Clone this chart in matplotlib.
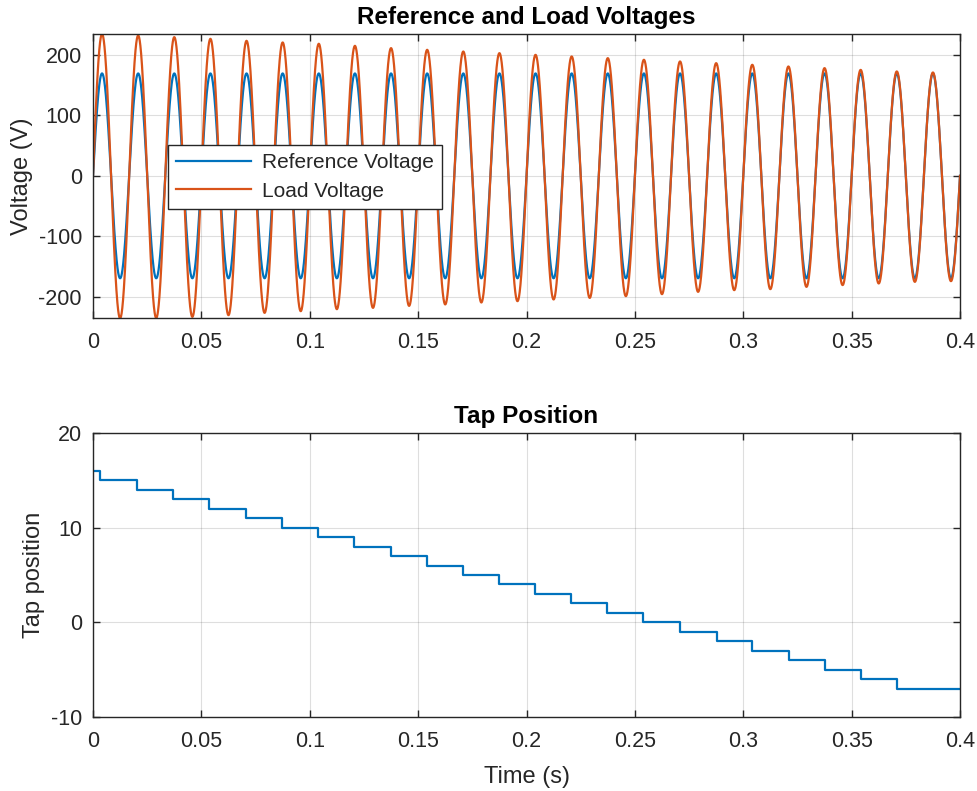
import matplotlib
matplotlib.use("Agg")
import matplotlib.pyplot as plt
import numpy as np

plt.rcParams["font.family"] = ["Liberation Sans", "DejaVu Sans"]
plt.rcParams["axes.unicode_minus"] = False

# ---------------------------------------------------------------------------
# Data
# ---------------------------------------------------------------------------
FREQ_HZ = 60.0
T_END = 0.4
REF_PEAK = 169.7  # reference voltage amplitude (V)

# load voltage peak per cycle (positive half, negative half), read per cycle
load_pos_peaks = [235.0, 232.6, 229.8, 227.0, 223.7, 221.0, 218.8, 215.4,
                  211.6, 208.8, 206.0, 203.3, 200.5, 197.8, 195.0, 192.3,
                  189.5, 186.7, 184.0, 181.2, 178.5, 175.6, 173.0, 171.3]
load_neg_peaks = [236.0, 235.5, 233.6, 230.8, 227.0, 224.2, 220.9, 218.7,
                  215.4, 213.0, 209.8, 207.6, 204.8, 202.2, 199.3, 196.0,
                  192.2, 189.4, 187.7, 183.9, 181.0, 178.3, 175.6, 174.5]

# tap changer: level held from each switch time on
tap_switch_times = [0.0, 0.0032, 0.0201, 0.0370, 0.0537, 0.0704, 0.0873,
                    0.1040, 0.1206, 0.1375, 0.1543, 0.1709, 0.1875, 0.2040,
                    0.2205, 0.2373, 0.2539, 0.2708, 0.2877, 0.3042, 0.3211,
                    0.3377, 0.3543, 0.3708]
tap_levels = [16, 15, 14, 13, 12, 11, 10, 9, 8, 7, 6, 5, 4, 3, 2, 1, 0,
              -1, -2, -3, -4, -5, -6, -7]

x_ticks = [0, 0.05, 0.1, 0.15, 0.2, 0.25, 0.3, 0.35, 0.4]
x_tick_labels = ["0", "0.05", "0.1", "0.15", "0.2", "0.25", "0.3", "0.35", "0.4"]

BLUE = "#0072BD"
ORANGE = "#D95319"
AX_COLOR = "#262626"

TICK_FS = 15.5
LABEL_FS = 17
TITLE_FS = 17.5

# ---------------------------------------------------------------------------
# Build waveforms (sine carrier scaled by the half-cycle peaks read above)
# ---------------------------------------------------------------------------
t = np.linspace(0, T_END, 8001)
carrier = np.sin(2 * np.pi * FREQ_HZ * t)
v_ref = REF_PEAK * carrier

cycle = np.minimum((t * FREQ_HZ).astype(int), len(load_pos_peaks) - 1)
pos = np.asarray(load_pos_peaks)[cycle]
neg = np.asarray(load_neg_peaks)[cycle]
v_load = np.where(carrier >= 0, pos, neg) * carrier

tap_t = list(tap_switch_times) + [T_END]
tap_y = list(tap_levels) + [tap_levels[-1]]


def style_axes(ax):
    ax.grid(True, color=AX_COLOR, alpha=0.15, linewidth=0.8)
    ax.set_axisbelow(True)
    for sp in ax.spines.values():
        sp.set_color(AX_COLOR)
        sp.set_linewidth(1.0)
    ax.tick_params(direction="in", length=5, width=1.0, colors=AX_COLOR,
                   labelsize=TICK_FS, top=True, right=True)
    ax.tick_params(axis="x", pad=10)
    ax.tick_params(axis="y", pad=8)
    ax.set_xlim(0, T_END)
    ax.set_xticks(x_ticks)
    ax.set_xticklabels(x_tick_labels)


fig = plt.figure(figsize=(9.78, 7.91), dpi=100)
ax1 = fig.add_axes([0.0951, 0.5976, 0.8865, 0.3594])
ax2 = fig.add_axes([0.0951, 0.0936, 0.8865, 0.359])

ax1.plot(t, v_ref, color=BLUE, linewidth=1.6, label="Reference Voltage")
ax1.plot(t, v_load, color=ORANGE, linewidth=1.6, label="Load Voltage")
style_axes(ax1)
ax1.set_ylim(v_load.min(), v_load.max())
ax1.set_yticks([-200, -100, 0, 100, 200])
ax1.set_ylabel("Voltage (V)", fontsize=LABEL_FS, color=AX_COLOR, labelpad=4)
ax1.set_title("Reference and Load Voltages", fontsize=TITLE_FS, fontweight="bold",
              color="black", pad=7)
leg = ax1.legend(loc="upper left", bbox_to_anchor=(0.0865, 0.61), fontsize=15,
                 frameon=True, fancybox=False, handlelength=3.6, borderpad=0.4,
                 labelspacing=0.45, handletextpad=0.5, borderaxespad=0)
leg.get_frame().set_edgecolor(AX_COLOR)
leg.get_frame().set_linewidth(1.0)
leg.get_frame().set_alpha(1.0)
for txt in leg.get_texts():
    txt.set_color(AX_COLOR)

ax2.step(tap_t, tap_y, where="post", color=BLUE, linewidth=1.6)
style_axes(ax2)
ax2.set_ylim(-10, 20)
ax2.set_yticks([-10, 0, 10, 20])
ax2.set_ylabel("Tap position", fontsize=LABEL_FS, color=AX_COLOR, labelpad=4)
ax2.set_xlabel("Time (s)", fontsize=LABEL_FS, color=AX_COLOR, labelpad=10)
ax2.set_title("Tap Position", fontsize=TITLE_FS, fontweight="bold", color="black", pad=7)

fig.savefig("out.png", dpi=100)
